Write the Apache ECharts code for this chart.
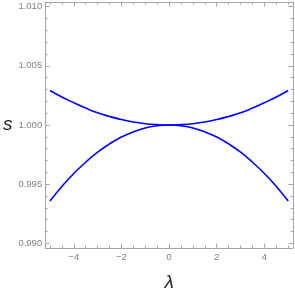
<!DOCTYPE html>
<html><head><meta charset="utf-8">
<script src="https://cdn.jsdelivr.net/npm/echarts@6/dist/echarts.min.js"></script>
<style>html,body{margin:0;padding:0;background:#fff}#c{width:295px;height:297px}</style>
</head><body><div id="c"></div>
<script>
var lambda = [-5, -4.5, -4, -3.5, -3, -2.5, -2, -1.5, -1, -0.5, 0, 0.5, 1, 1.5, 2, 2.5, 3, 3.5, 4, 4.5, 5];
var upperS = [1.00292, 1.00237, 1.00188, 1.00143, 1.00103, 1.00072, 1.00046, 1.00026, 1.00011, 1.00003, 1.00000, 1.00003, 1.00011, 1.00026, 1.00046, 1.00072, 1.00103, 1.00143, 1.00188, 1.00237, 1.00292];
var lowerS = [0.99357, 0.99480, 0.99590, 0.99685, 0.99770, 0.99840, 0.99898, 0.99942, 0.99974, 0.99994, 1.00000, 0.99994, 0.99974, 0.99942, 0.99898, 0.99840, 0.99770, 0.99685, 0.99590, 0.99480, 0.99357];
var yMajor = [0.990, 0.995, 1.000, 1.005, 1.010];
var yMinor = [0.990, 0.991, 0.992, 0.993, 0.994, 0.995, 0.996, 0.997, 0.998, 0.999, 1.000, 1.001, 1.002, 1.003, 1.004, 1.005, 1.006, 1.007, 1.008, 1.009, 1.010];
var xMajor = [-4, -2, 0, 2, 4];
var xMinor = [-5, -4.5, -4, -3.5, -3, -2.5, -2, -1.5, -1, -0.5, 0, 0.5, 1, 1.5, 2, 2.5, 3, 3.5, 4, 4.5, 5];

var frameColor = '#a6a6a6';
var labelColor = '#808080';
var chart = echarts.init(document.getElementById('c'));
function pairs(xs, ys){ return xs.map(function(x,i){return [x, ys[i]];}); }
function yAx(pos, vals, len, labels, line, name){
  var a = {type:'value', position:pos, min:0.9896, max:1.0104, gridIndex:0,
    splitLine:{show:false},
    axisLine:{show:line, onZero:false, lineStyle:{color:frameColor, width:1}},
    axisTick:{show:true, inside:true, length:len, customValues:vals, lineStyle:{color:frameColor, width:1}},
    axisLabel:{show:labels, customValues:yMajor, margin:3, color:labelColor, fontSize:9.5, fontFamily:'Liberation Sans',
      formatter:function(v){return v.toFixed(3);}}
  };
  if (name){ a.name = name; a.nameLocation='middle'; a.nameRotate=0; a.nameGap=29;
    a.nameTextStyle={fontSize:19, fontStyle:'italic', color:'#222', fontFamily:'Liberation Sans'}; }
  return a;
}
function xAx(pos, vals, len, labels, line, name){
  var a = {type:'value', position:pos, min:-5.2, max:5.2, gridIndex:0,
    splitLine:{show:false},
    axisLine:{show:line, onZero:false, lineStyle:{color:frameColor, width:1}},
    axisTick:{show:true, inside:true, length:len, customValues:vals, lineStyle:{color:frameColor, width:1}},
    axisLabel:{show:labels, customValues:xMajor, margin:4, color:labelColor, fontSize:9.5, fontFamily:'Liberation Sans',
      formatter:function(v){return v<0 ? '\u2212'+(-v) : String(v);}}
  };
  if (name){ a.name = name; a.nameLocation='middle'; a.nameGap=25;
    a.nameTextStyle={fontSize:19, fontStyle:'italic', color:'#222', fontFamily:'Liberation Sans'}; }
  return a;
}
chart.setOption({
  animation:false,
  grid:{left:38, right:2, top:2, bottom:42},
  xAxis:[xAx('bottom', xMajor, 4.5, true, true, '\u03bb'), xAx('bottom', xMinor, 2.5, false, false),
         xAx('top', xMajor, 4.5, false, true), xAx('top', xMinor, 2.5, false, false)],
  yAxis:[yAx('left', yMajor, 4.5, true, true, 's'), yAx('left', yMinor, 2.5, false, false),
         yAx('right', yMajor, 4.5, false, true), yAx('right', yMinor, 2.5, false, false)],
  series:[
    {type:'line', xAxisIndex:0, yAxisIndex:0, data:pairs(lambda, upperS), smooth:true, showSymbol:false,
      lineStyle:{color:'#0000ff', width:1.6}},
    {type:'line', xAxisIndex:0, yAxisIndex:0, data:pairs(lambda, lowerS), smooth:true, showSymbol:false,
      lineStyle:{color:'#0000ff', width:1.6}}
  ]
});
</script></body></html>
